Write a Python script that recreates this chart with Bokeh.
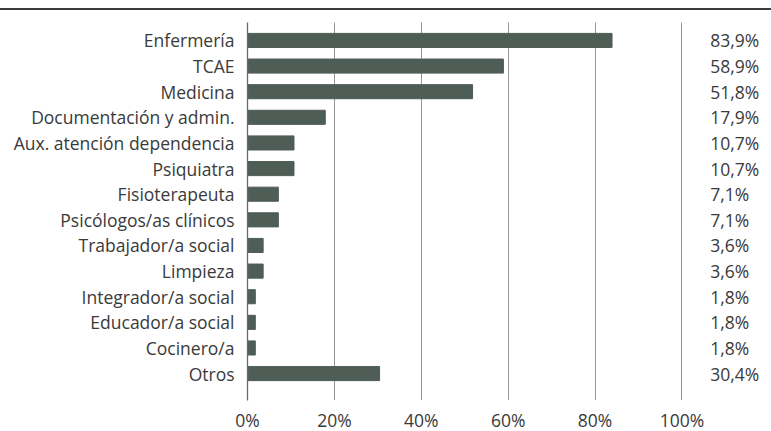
from bokeh.plotting import figure
from bokeh.layouts import column
from bokeh.models import Range1d, FixedTicker, PrintfTickFormatter, ColumnDataSource, Div
from bokeh.core.properties import value
from bokeh.embed import file_html
from bokeh.resources import INLINE

categories = ["Enfermería", "TCAE", "Medicina", "Documentación y admin.",
              "Aux. atención dependencia", "Psiquiatra", "Fisioterapeuta",
              "Psicólogos/as clínicos", "Trabajador/a social", "Limpieza",
              "Integrador/a social", "Educador/a social", "Cocinero/a", "Otros"]
values = [83.9, 58.9, 51.8, 17.9, 10.7, 10.7, 7.1, 7.1, 3.6, 3.6, 1.8, 1.8, 1.8, 30.4]
x_ticks = [0, 20, 40, 60, 80, 100]
grid_ticks = [20, 40, 60, 80, 100]

FONT = "Open Sans"
FS = "17.5px"
TEXT = "#3a3a3a"
BAR = "#4f5d57"

pos = list(range(len(categories)))
labels = [("%.1f%%" % v).replace(".", ",") for v in values]
src = ColumnDataSource(dict(y=pos, v=values, lab=labels, lx=[106.5] * len(pos)))

# thin top rule spanning the full page width
top_rule = Div(text="", width=771, height=10, margin=(0, 0, 0, 0),
               styles={"border-bottom": "2px solid #3c3c3c", "box-sizing": "border-box"})

p = figure(width=771, output_backend="svg", toolbar_location=None,
           x_range=Range1d(0, 120.6), y_range=Range1d(14.05, -0.70),
           frame_width=524, frame_height=378,
           min_border_left=247, min_border_top=12, min_border_right=0, min_border_bottom=0)
p.outline_line_color = None
p.background_fill_color = None
p.border_fill_color = "white"

p.hbar(y="y", right="v", left=0, height=0.55, color=BAR, source=src)
p.text(x="lx", y="y", text="lab", source=src, text_align="left", text_baseline="middle",
       text_font=value(FONT), text_font_size=FS, text_color=TEXT)

# grids
p.ygrid.grid_line_color = None
p.xgrid.ticker = FixedTicker(ticks=grid_ticks)
p.xgrid.grid_line_color = "#2a2a2a"
p.xgrid.grid_line_dash = "1 1"
p.xgrid.grid_line_width = 1

# x axis
p.xaxis.ticker = FixedTicker(ticks=x_ticks)
p.xaxis.formatter = PrintfTickFormatter(format="%d%%")
p.xaxis.axis_line_color = None
p.xaxis.major_tick_line_color = None
p.xaxis.minor_tick_line_color = None
p.xaxis.major_tick_out = 0
p.xaxis.major_label_text_font = FONT
p.xaxis.major_label_text_font_size = FS
p.xaxis.major_label_text_color = TEXT
p.xaxis.major_label_standoff = 7

# y axis
p.yaxis.ticker = FixedTicker(ticks=pos)
p.yaxis.major_label_overrides = {i: c for i, c in zip(pos, categories)}
p.yaxis.axis_line_color = "#6a6a6a"
p.yaxis.axis_line_width = 1.3
p.yaxis.major_tick_line_color = None
p.yaxis.minor_tick_line_color = None
p.yaxis.major_tick_out = 0
p.yaxis.major_label_text_font = FONT
p.yaxis.major_label_text_font_size = FS
p.yaxis.major_label_text_color = TEXT
p.yaxis.major_label_standoff = 13

layout = column(top_rule, p, spacing=0)
open("out.html", "w").write(file_html(layout, INLINE))
